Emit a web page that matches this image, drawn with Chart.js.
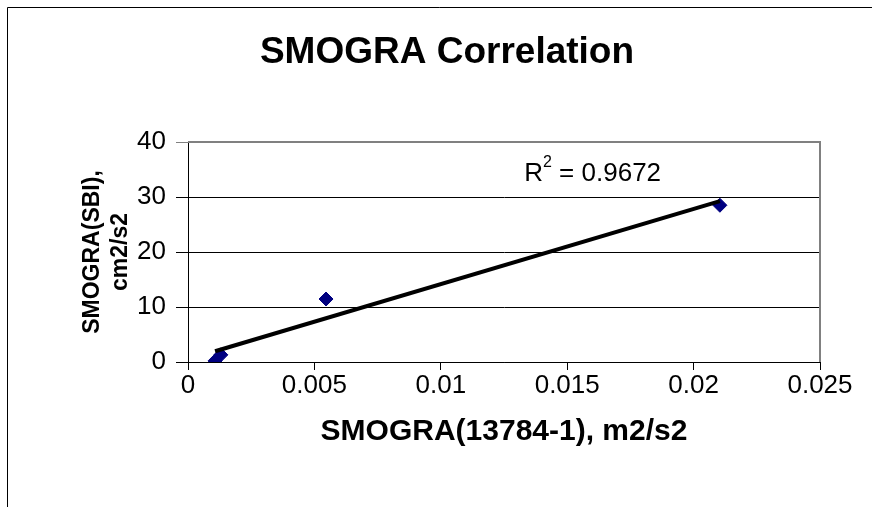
<!DOCTYPE html>
<html>
<head>
<meta charset="utf-8">
<title>SMOGRA Correlation</title>
<script src="https://cdn.jsdelivr.net/npm/chart.js@4.4.1/dist/chart.umd.min.js"></script>
<style>
    body { margin: 0; background: #fff; }
</style>
</head>
<body>
<canvas id="grafico" width="872" height="507"></canvas>
<script>
// Data
const xValores = [0.00107, 0.0013, 0.00546, 0.02104];
const yValores = [0.2, 1.3, 11.45, 28.5];
const xTicks = [0, 0.005, 0.01, 0.015, 0.02, 0.025];
const xTickLabels = ["0", "0.005", "0.01", "0.015", "0.02", "0.025"];
const yTicks = [0, 10, 20, 30, 40];
const textoR2 = "0.9672";

const fonte = "'Liberation Sans', Arial, sans-serif";

// Least squares line through the points (Excel linear trendline)
function regressaoLinear(xs, ys) {
    const n = xs.length;
    const mx = xs.reduce((a, b) => a + b, 0) / n;
    const my = ys.reduce((a, b) => a + b, 0) / n;
    let sxy = 0, sxx = 0;
    for (let i = 0; i < n; i++) {
        sxy += (xs[i] - mx) * (ys[i] - my);
        sxx += (xs[i] - mx) * (xs[i] - mx);
    }
    const inclinacao = sxy / sxx;
    return { inclinacao, intercepto: my - inclinacao * mx };
}

const reta = regressaoLinear(xValores, yValores);
const xMin = Math.min(...xValores);
const xMax = Math.max(...xValores);
const pontosReta = [xMin, xMax].map(x => ({ x: x, y: reta.intercepto + reta.inclinacao * x }));
const pontos = xValores.map((x, i) => ({ x: x, y: yValores[i] }));

// Outer frame, title, plot border and the R² label
const enfeites = {
    id: "enfeites",
    beforeDraw(chart) {
        const ctx = chart.ctx;
        ctx.save();
        ctx.fillStyle = "#fff";
        ctx.fillRect(0, 0, chart.width, chart.height);
        ctx.strokeStyle = "#000";
        ctx.lineWidth = 1;
        ctx.beginPath();
        ctx.moveTo(7.5, chart.height);
        ctx.lineTo(7.5, 7.5);
        ctx.lineTo(chart.width, 7.5);
        ctx.stroke();

        ctx.fillStyle = "#000";
        ctx.font = "bold 37px " + fonte;
        ctx.textAlign = "center";
        ctx.textBaseline = "middle";
        ctx.fillText("SMOGRA Correlation", 447, 53);
        ctx.restore();
    },
    beforeDatasetsDraw(chart) {
        const { ctx, chartArea } = chart;
        ctx.save();
        ctx.strokeStyle = "#808080";
        ctx.lineWidth = 2;
        ctx.beginPath();
        ctx.moveTo(chartArea.left, chartArea.top);
        ctx.lineTo(chartArea.right, chartArea.top);
        ctx.lineTo(chartArea.right, chartArea.bottom);
        ctx.stroke();
        ctx.restore();
    },
    afterDraw(chart) {
        const ctx = chart.ctx;
        const x = chart.scales.x.getPixelForValue(0.0133);
        const y = chart.scales.y.getPixelForValue(34.2);
        ctx.save();
        ctx.fillStyle = "#000";
        ctx.textBaseline = "middle";
        ctx.textAlign = "left";
        ctx.font = "26px " + fonte;
        ctx.fillText("R", x, y);
        let pos = x + ctx.measureText("R").width;
        ctx.font = "16px " + fonte;
        ctx.fillText("2", pos, y - 11);
        pos += ctx.measureText("2").width;
        ctx.font = "26px " + fonte;
        ctx.fillText(" = " + textoR2, pos, y);
        ctx.restore();
    }
};

new Chart(document.getElementById("grafico"), {
    type: "scatter",
    data: {
        datasets: [{
            label: "Linear",
            data: pontosReta,
            showLine: true,
            borderColor: "#000",
            borderWidth: 4,
            pointRadius: 0
        }, {
            label: "SMOGRA",
            data: pontos,
            pointStyle: "rectRot",
            pointRadius: 7,
            backgroundColor: "#000080",
            borderColor: "#000080",
            borderWidth: 1
        }]
    },
    options: {
        responsive: false,
        animation: false,
        events: [],
        layout: { padding: { left: 8, top: 142, right: 52, bottom: 0 } },
        plugins: {
            legend: { display: false },
            tooltip: { enabled: false },
            title: { display: false }
        },
        scales: {
            x: {
                type: "linear",
                min: 0,
                max: 0.025,
                afterBuildTicks: scale => { scale.ticks = xTicks.map(v => ({ value: v })); },
                afterFit: scale => { scale.height = 145; },
                ticks: {
                    padding: 0,
                    color: "#000",
                    font: { family: fonte, size: 26 },
                    callback: (value, index) => xTickLabels[index]
                },
                grid: { drawOnChartArea: false, tickLength: 8, color: "#000" },
                border: { color: "#000", width: 1 },
                title: {
                    display: true,
                    text: "SMOGRA(13784-1), m2/s2",
                    color: "#000",
                    font: { family: fonte, size: 30, weight: "bold" },
                    padding: { top: 0, bottom: 57 }
                }
            },
            y: {
                min: 0,
                max: 40,
                afterBuildTicks: scale => { scale.ticks = yTicks.map(v => ({ value: v })); },
                afterFit: scale => { scale.width = 180; },
                ticks: {
                    padding: 10,
                    color: "#000",
                    font: { family: fonte, size: 26 }
                },
                grid: {
                    tickLength: 12,
                    lineWidth: 1,
                    color: c => (c.tick && c.tick.value === 40) ? "#808080" : "#000"
                },
                border: { color: "#000", width: 1 },
                title: {
                    display: true,
                    text: ["SMOGRA(SBI),", "cm2/s2"],
                    color: "#000",
                    font: { family: fonte, size: 23, weight: "bold" },
                    padding: { top: 71, bottom: 0 }
                }
            }
        }
    },
    plugins: [enfeites]
});
</script>
</body>
</html>
